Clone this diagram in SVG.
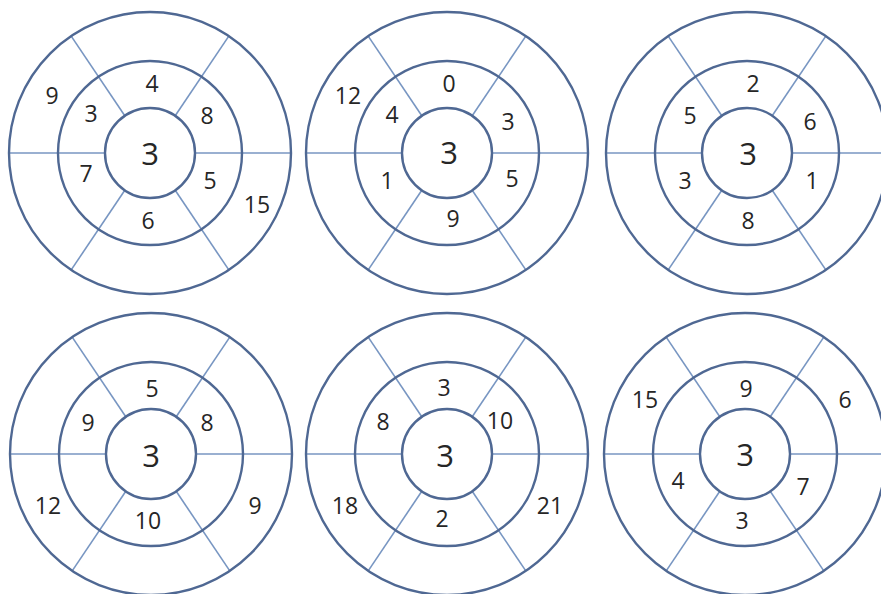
<svg xmlns="http://www.w3.org/2000/svg" xmlns:xlink="http://www.w3.org/1999/xlink" width="881" height="594" viewBox="0 0 881 594">
<style>
.ring{fill:none;stroke:#4f6893;stroke-width:2.4}
.spoke{fill:none;stroke:#7896c2;stroke-width:1.6}
.n{font-family:"Open Sans","Noto Sans",sans-serif;font-size:23px;fill:#262626;text-anchor:middle;dominant-baseline:central}
.c{font-size:31px}
</style>
<defs>
<g id="wheel">
<g class="spoke">
<line x1="-141" y1="0" x2="-45" y2="0"/>
<line x1="45" y1="0" x2="141" y2="0"/>
<line x1="-25.2" y1="-37.3" x2="-78.8" y2="-116.9"/>
<line x1="25.2" y1="-37.3" x2="78.8" y2="-116.9"/>
<line x1="-25.2" y1="37.3" x2="-78.8" y2="116.9"/>
<line x1="25.2" y1="37.3" x2="78.8" y2="116.9"/>
</g>
<circle class="ring" r="141"/>
<circle class="ring" r="92"/>
<circle class="ring" r="45"/>
</g>
</defs>
<rect width="881" height="594" fill="#ffffff"/>
<g id="connectors"></g>
<g id="wheel1">
<use xlink:href="#wheel" href="#wheel" x="150" y="153"/>
<text class="n c" x="150" y="153">3</text>
<text class="n" x="52" y="95">9</text>
<text class="n" x="152" y="83">4</text>
<text class="n" x="91" y="113">3</text>
<text class="n" x="207" y="115">8</text>
<text class="n" x="86" y="173">7</text>
<text class="n" x="210" y="180">5</text>
<text class="n" x="257" y="204">15</text>
<text class="n" x="148" y="220">6</text>
</g>
<g id="wheel2">
<use xlink:href="#wheel" href="#wheel" x="447" y="153"/>
<text class="n c" x="449" y="152">3</text>
<text class="n" x="348" y="95">12</text>
<text class="n" x="449" y="83">0</text>
<text class="n" x="392" y="114">4</text>
<text class="n" x="508" y="121">3</text>
<text class="n" x="387" y="180">1</text>
<text class="n" x="512" y="178">5</text>
<text class="n" x="453" y="218">9</text>
</g>
<g id="wheel3">
<use xlink:href="#wheel" href="#wheel" x="747" y="153"/>
<text class="n c" x="748" y="153">3</text>
<text class="n" x="753" y="83">2</text>
<text class="n" x="690" y="115">5</text>
<text class="n" x="810" y="121">6</text>
<text class="n" x="685" y="180">3</text>
<text class="n" x="812" y="180">1</text>
<text class="n" x="748" y="220">8</text>
</g>
<g id="wheel4">
<use xlink:href="#wheel" href="#wheel" x="151" y="454"/>
<text class="n c" x="151" y="455">3</text>
<text class="n" x="152" y="388">5</text>
<text class="n" x="88" y="422">9</text>
<text class="n" x="207" y="422">8</text>
<text class="n" x="48" y="505">12</text>
<text class="n" x="148" y="520">10</text>
<text class="n" x="255" y="505">9</text>
</g>
<g id="wheel5">
<use xlink:href="#wheel" href="#wheel" x="447" y="454"/>
<text class="n c" x="445" y="455">3</text>
<text class="n" x="444" y="387">3</text>
<text class="n" x="383" y="421">8</text>
<text class="n" x="500" y="420">10</text>
<text class="n" x="345" y="505">18</text>
<text class="n" x="442" y="518">2</text>
<text class="n" x="550" y="505">21</text>
</g>
<g id="wheel6">
<use xlink:href="#wheel" href="#wheel" x="745" y="454"/>
<text class="n c" x="745" y="454">3</text>
<text class="n" x="645" y="399">15</text>
<text class="n" x="746" y="388">9</text>
<text class="n" x="845" y="399">6</text>
<text class="n" x="678" y="480">4</text>
<text class="n" x="803" y="486">7</text>
<text class="n" x="742" y="520">3</text>
</g>
</svg>
